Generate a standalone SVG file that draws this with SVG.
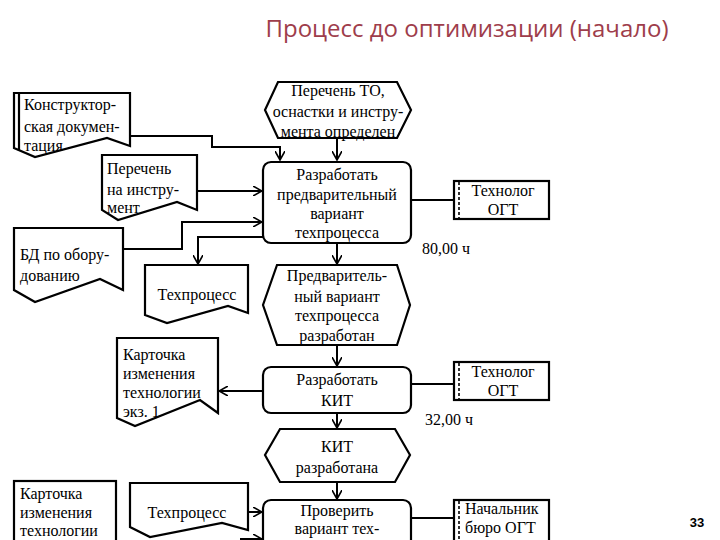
<svg xmlns="http://www.w3.org/2000/svg" width="720" height="540" viewBox="0 0 720 540">
<defs>
<style>
.s{fill:#fff;stroke:#000;stroke-width:2.2;stroke-linejoin:miter}
.c{fill:none;stroke:#000;stroke-width:2}
.t{font-family:"Liberation Serif","Times New Roman",serif;font-size:16px;fill:#000}
.m{text-anchor:middle}
.d{stroke:#000;stroke-width:1.6;stroke-dasharray:3,2}
</style>
<marker id="a" viewBox="0 0 10 10" refX="9" refY="5" markerWidth="10" markerHeight="10" markerUnits="userSpaceOnUse" orient="auto">
<path d="M0,0 L9,5 L0,10" fill="none" stroke="#000" stroke-width="1.6"/>
</marker>
</defs>
<rect width="720" height="540" fill="#fff"/>
<text x="467" y="37" text-anchor="middle" font-family="'Open Sans','Noto Sans',sans-serif" font-size="24" fill="#9e3d4b">Процесс до оптимизации (начало)</text>
<text x="697" y="527" text-anchor="middle" font-family="'Liberation Sans',Arial,sans-serif" font-size="13" font-weight="bold" fill="#000">33</text>

<g id="connectors">
<path class="c" d="M130,136 H212 V147 H280 V160" marker-end="url(#a)"/>
<path class="c" d="M337,138 V160" marker-end="url(#a)"/>
<path class="c" d="M197,191 H262" marker-end="url(#a)"/>
<path class="c" d="M123,249 H182 V222 H262" marker-end="url(#a)"/>
<path class="c" d="M263,237 H198 V264" marker-end="url(#a)"/>
<path class="c" d="M411,200 H454"/>
<path class="c" d="M337,243 V264" marker-end="url(#a)"/>
<path class="c" d="M337,345 V366" marker-end="url(#a)"/>
<path class="c" d="M411,384 H454"/>
<path class="c" d="M263,391 H219" marker-end="url(#a)"/>
<path class="c" d="M337,413 V428" marker-end="url(#a)"/>
<path class="c" d="M337,482 V499" marker-end="url(#a)"/>
<path class="c" d="M411,518 H454"/>
<path class="c" d="M248,512 H262" marker-end="url(#a)"/>
<path class="c" d="M240,539 H262" marker-end="url(#a)"/>
</g>

<g id="doc-konstr">
<path class="s" d="M14,93 H130 V146 L107,138 L35,157 L14,148 Z"/>
<line x1="19" y1="93" x2="19" y2="151" stroke="#000" stroke-width="2.2"/>
<text class="t" x="24" y="110">Конструктор-</text>
<text class="t" x="24" y="132">ская докумен-</text>
<text class="t" x="24" y="151">тация</text>
</g>

<g id="doc-perechen">
<path class="s" d="M102,155 H197 V210 L177,202 L118,220 L102,210 Z"/>
<text class="t" x="107" y="174">Перечень</text>
<text class="t" x="107" y="195">на инстру-</text>
<text class="t" x="107" y="213">мент</text>
</g>

<g id="doc-bd">
<path class="s" d="M14,228 H123 V290 L100,279 L35,302 L14,290 Z"/>
<text class="t" x="20" y="260">БД по обору-</text>
<text class="t" x="20" y="281">дованию</text>
</g>

<g id="doc-tech1">
<path class="s" d="M145,265 H248 V313 L228,306 L167,323 L145,315 Z"/>
<text class="t m" x="197" y="300">Техпроцесс</text>
</g>

<g id="ev-perechen-to">
<path class="s" d="M278,82 H397 L411,110 L397,138 H278 L265,110 Z"/>
<text class="t m" x="338" y="96">Перечень ТО,</text>
<text class="t m" x="338" y="117">оснастки и инстру-</text>
<text class="t m" x="338" y="137">мента определен</text>
</g>

<g id="fn-razrab1">
<rect class="s" x="263" y="162" width="148" height="81" rx="8"/>
<text class="t m" x="337" y="180">Разработать</text>
<text class="t m" x="337" y="200">предварительный</text>
<text class="t m" x="337" y="219">вариант</text>
<text class="t m" x="337" y="238">техпроцесса</text>
</g>

<g id="org-tech1">
<rect class="s" x="454" y="181" width="95" height="38"/>
<line class="d" x1="459" y1="182" x2="459" y2="218"/>
<text class="t m" x="503" y="196">Технолог</text>
<text class="t m" x="503" y="215">ОГТ</text>
</g>
<text class="t" x="422" y="254" font-size="15">80,00 ч</text>

<g id="ev-predv">
<path class="s" d="M277,265 H397 L410,305 L397,345 H277 L263,305 Z"/>
<text class="t m" x="337" y="281">Предваритель-</text>
<text class="t m" x="337" y="302">ный вариант</text>
<text class="t m" x="337" y="321">техпроцесса</text>
<text class="t m" x="337" y="341">разработан</text>
</g>

<g id="fn-razrab-kit">
<rect class="s" x="263" y="367" width="148" height="46" rx="8"/>
<text class="t m" x="337" y="385">Разработать</text>
<text class="t m" x="337" y="406">КИТ</text>
</g>

<g id="org-tech2">
<rect class="s" x="454" y="362" width="95" height="38"/>
<line class="d" x1="459" y1="363" x2="459" y2="399"/>
<text class="t m" x="503" y="377">Технолог</text>
<text class="t m" x="503" y="396">ОГТ</text>
</g>
<text class="t" x="425" y="425" font-size="15">32,00 ч</text>

<g id="doc-kartochka1">
<path class="s" d="M117,338 H218 V413 L200,400 L135,426 L117,418 Z"/>
<text class="t" x="123" y="360">Карточка</text>
<text class="t" x="123" y="379">изменения</text>
<text class="t" x="123" y="398">технологии</text>
<text class="t" x="123" y="417">экз. 1</text>
</g>

<g id="ev-kit">
<path class="s" d="M280,429 H395 L410,455 L395,482 H280 L265,455 Z"/>
<text class="t m" x="337" y="452">КИТ</text>
<text class="t m" x="337" y="473">разработана</text>
</g>

<g id="fn-proverit">
<rect class="s" x="263" y="500" width="148" height="60" rx="8"/>
<text class="t m" x="337" y="516">Проверить</text>
<text class="t m" x="337" y="534">вариант тех-</text>
</g>

<g id="org-nach">
<rect class="s" x="454" y="500" width="95" height="60"/>
<line class="d" x1="459" y1="501" x2="459" y2="540"/>
<text class="t" x="465" y="514">Начальник</text>
<text class="t" x="465" y="533">бюро ОГТ</text>
</g>

<g id="doc-kartochka2">
<rect class="s" x="14" y="481" width="102" height="80"/>
<text class="t" x="20" y="499">Карточка</text>
<text class="t" x="20" y="518">изменения</text>
<text class="t" x="20" y="536">технологии</text>
</g>

<g id="doc-tech2">
<path class="s" d="M130,483 H248 V530 L222,523 L150,537 L130,527 Z"/>
<text class="t m" x="187" y="518">Техпроцесс</text>
</g>
</svg>
